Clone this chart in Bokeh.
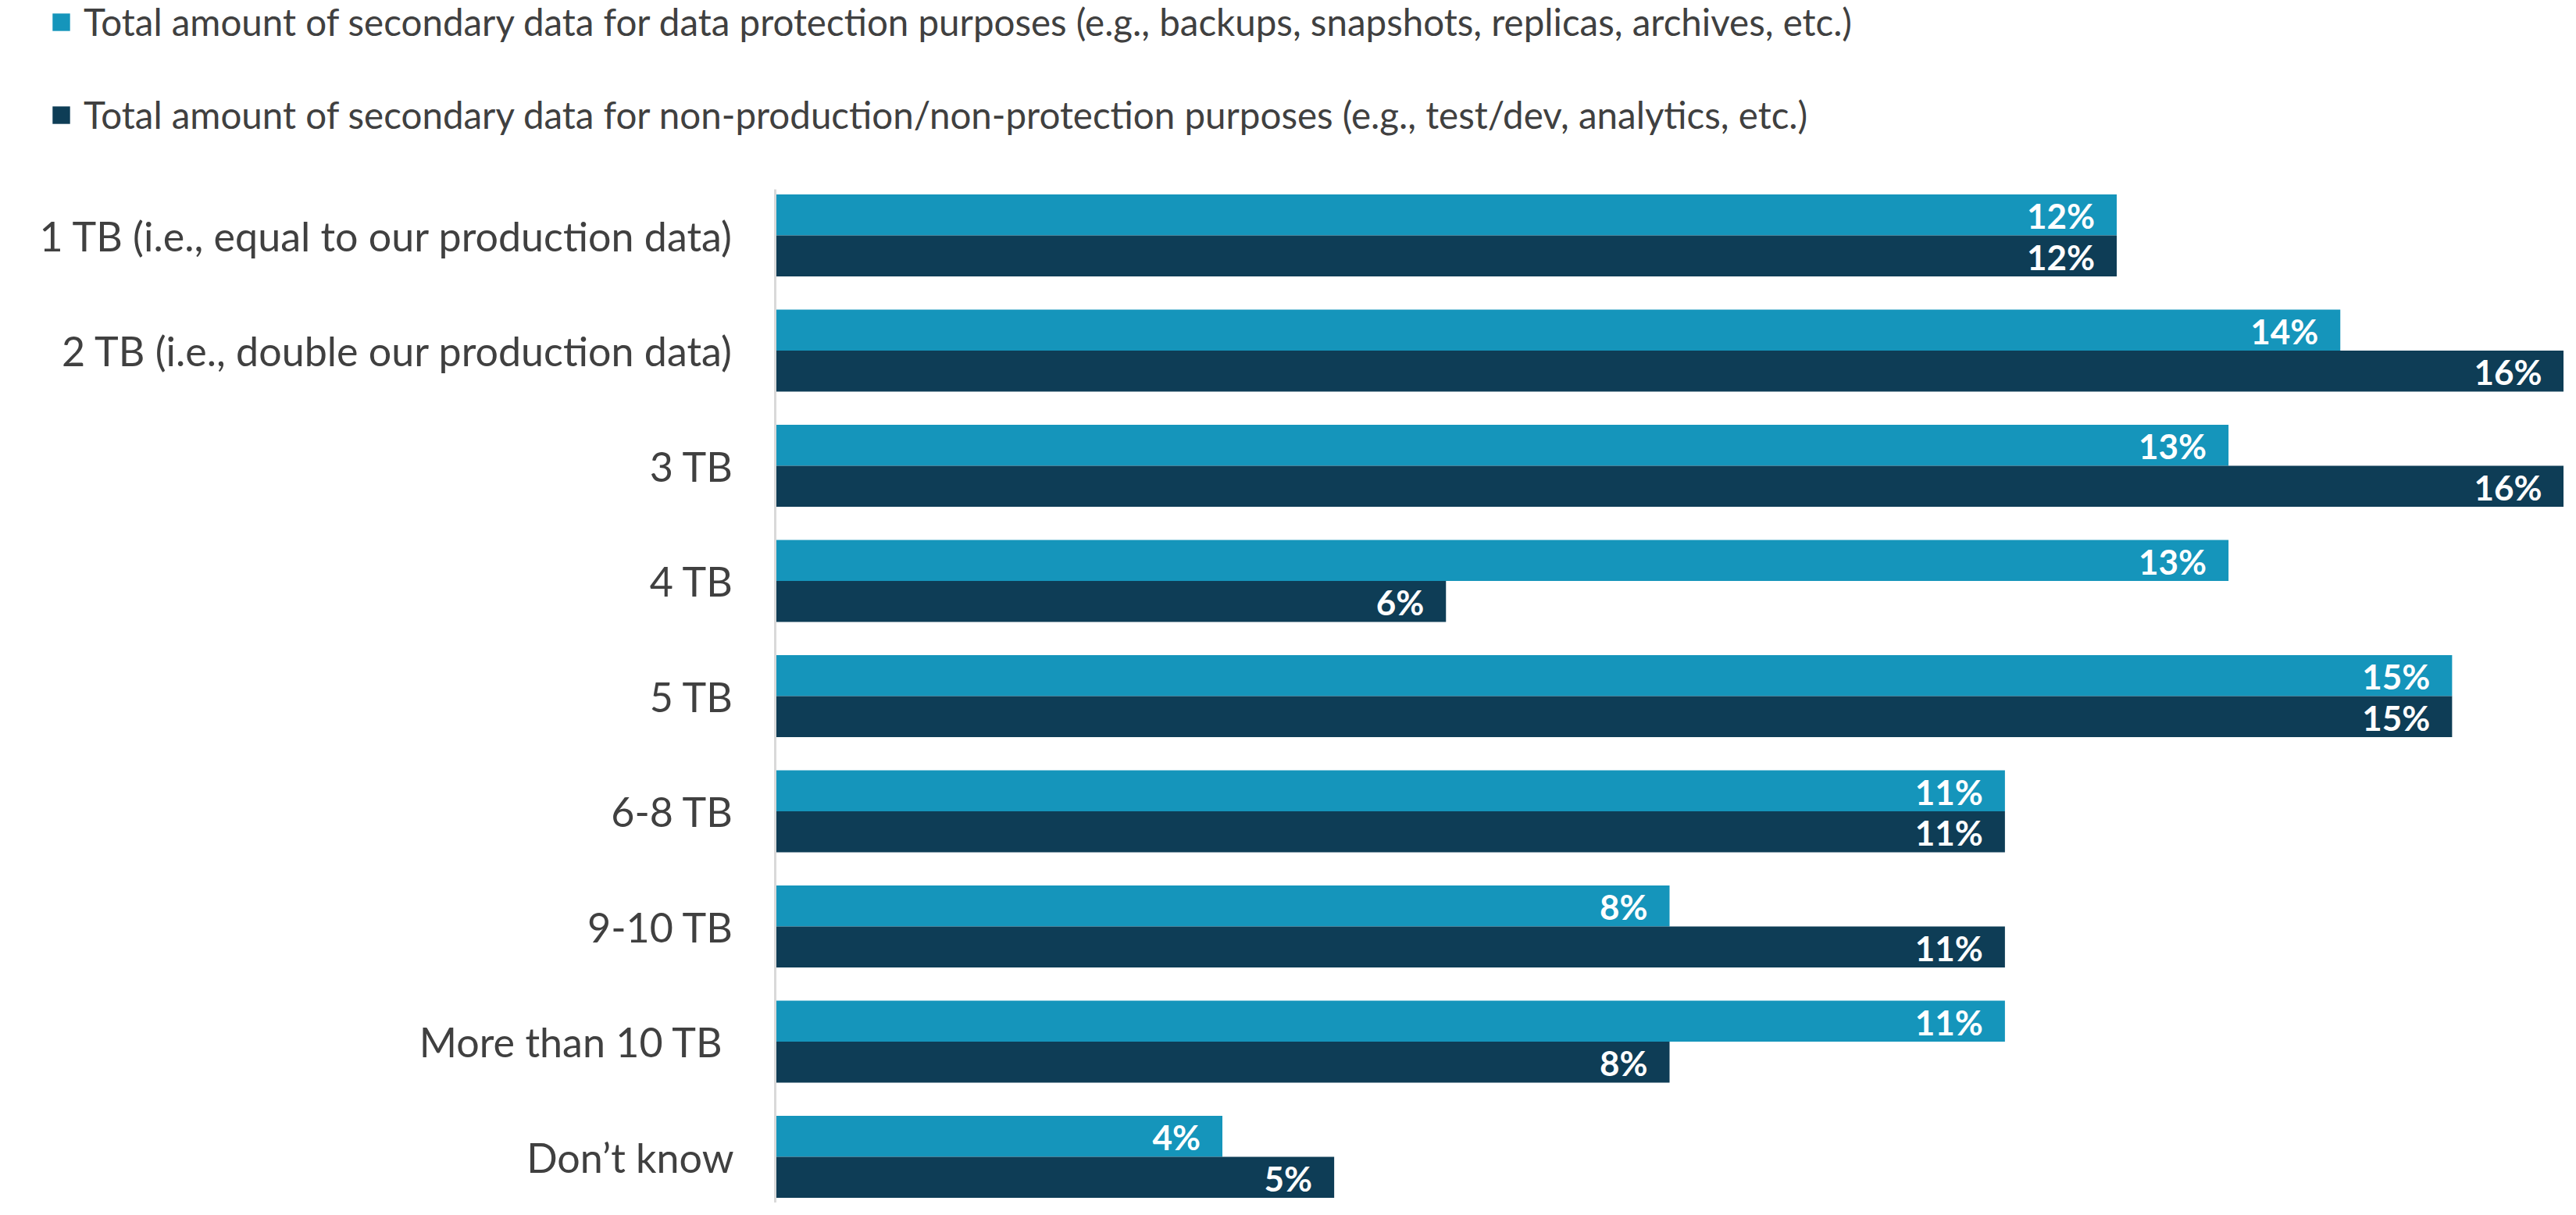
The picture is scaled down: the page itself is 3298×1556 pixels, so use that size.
from bokeh.plotting import figure
from bokeh.layouts import column
from bokeh.models import ColumnDataSource, FactorRange, Legend, LegendItem
from bokeh.transform import dodge
from bokeh.core.properties import value
from bokeh.embed import file_html
from bokeh.resources import INLINE

categories = [
    "1 TB (i.e., equal to our production data)",
    "2 TB (i.e., double our production data)",
    "3 TB",
    "4 TB",
    "5 TB",
    "6-8 TB",
    "9-10 TB",
    "More than 10 TB ",
    "Don\u2019t know",
]
protection = [12, 14, 13, 13, 15, 11, 8, 11, 4]
non_production = [12, 16, 16, 6, 15, 11, 11, 8, 5]
series_names = [
    "Total amount of secondary data for data protection purposes (e.g., backups, snapshots, replicas, archives, etc.)",
    "Total amount of secondary data for non-production/non-protection purposes (e.g., test/dev, analytics, etc.)",
]
colors = ["#1595BB", "#0E3D56"]

FONT = "Lato"
W = 3282
LEG_H = 228
MAIN_H = 1540 - LEG_H
LEFT, TOP = 992, 14

src = ColumnDataSource(dict(
    cat=categories,
    prot=protection,
    nonp=non_production,
    prot_lbl=[f"{v}%" for v in protection],
    nonp_lbl=[f"{v}%" for v in non_production],
))

bh = 0.356
off = 0.178

# ---- main chart ----
yr = FactorRange(factors=categories[::-1], range_padding=-0.1, range_padding_units="absolute")
p = figure(width=W, height=MAIN_H, y_range=yr, x_range=(0, 16),
           output_backend="svg", toolbar_location=None, x_axis_location=None,
           min_border_left=LEFT, min_border_top=TOP, min_border_right=0, min_border_bottom=0)
p.frame_align = False
p.outline_line_color = None
p.xgrid.grid_line_color = None
p.ygrid.grid_line_color = None

p.hbar(y=dodge("cat", off, range=yr), right="prot", left=0, height=bh, source=src,
       fill_color=colors[0], line_color=None)
p.hbar(y=dodge("cat", -off, range=yr), right="nonp", left=0, height=bh, source=src,
       fill_color=colors[1], line_color=None)

for col, lbl, o in (("prot", "prot_lbl", off), ("nonp", "nonp_lbl", -off)):
    p.text(x=col, y=dodge("cat", o, range=yr), text=lbl, source=src,
           text_align="right", text_baseline="middle", x_offset=-28, y_offset=1,
           text_color="white", text_font=value(FONT), text_font_style="bold",
           text_font_size="44px")

ax = p.yaxis[0]
ax.axis_line_color = "#D9D9D9"
ax.axis_line_width = 3
ax.major_tick_line_color = None
ax.minor_tick_line_color = None
ax.major_tick_out = 0
ax.major_tick_in = 0
ax.major_label_standoff = 53
ax.major_label_text_font = FONT
ax.major_label_text_font_size = "52px"
ax.major_label_text_color = "#404040"

# ---- legend strip ----
lyr = FactorRange(factors=categories[::-1])
lg = figure(width=W, height=LEG_H, y_range=lyr, x_range=(0, 16),
            output_backend="svg", toolbar_location=None,
            x_axis_location=None, y_axis_location=None,
            min_border_left=0, min_border_top=0, min_border_right=0, min_border_bottom=0)
lg.frame_align = False
lg.outline_line_color = None
lg.xgrid.grid_line_color = None
lg.ygrid.grid_line_color = None
lr1 = lg.hbar(y="cat", right="prot", left=0, height=bh, source=src,
              fill_color=colors[0], line_color=None, visible=False)
lr2 = lg.hbar(y="cat", right="nonp", left=0, height=bh, source=src,
              fill_color=colors[1], line_color=None, visible=False)

legend = Legend(items=[LegendItem(label=series_names[0], renderers=[lr1]),
                       LegendItem(label=series_names[1], renderers=[lr2])],
                location=(64, 53), orientation="vertical",
                glyph_width=28, glyph_height=28, label_standoff=15, spacing=62,
                padding=0, margin=0, border_line_color=None, background_fill_alpha=0,
                label_text_font=FONT, label_text_font_size="47.5px", label_text_color="#404040")
lg.add_layout(legend, "center")

layout = column(lg, p, spacing=0)
open("out.html", "w").write(file_html(layout, INLINE))
